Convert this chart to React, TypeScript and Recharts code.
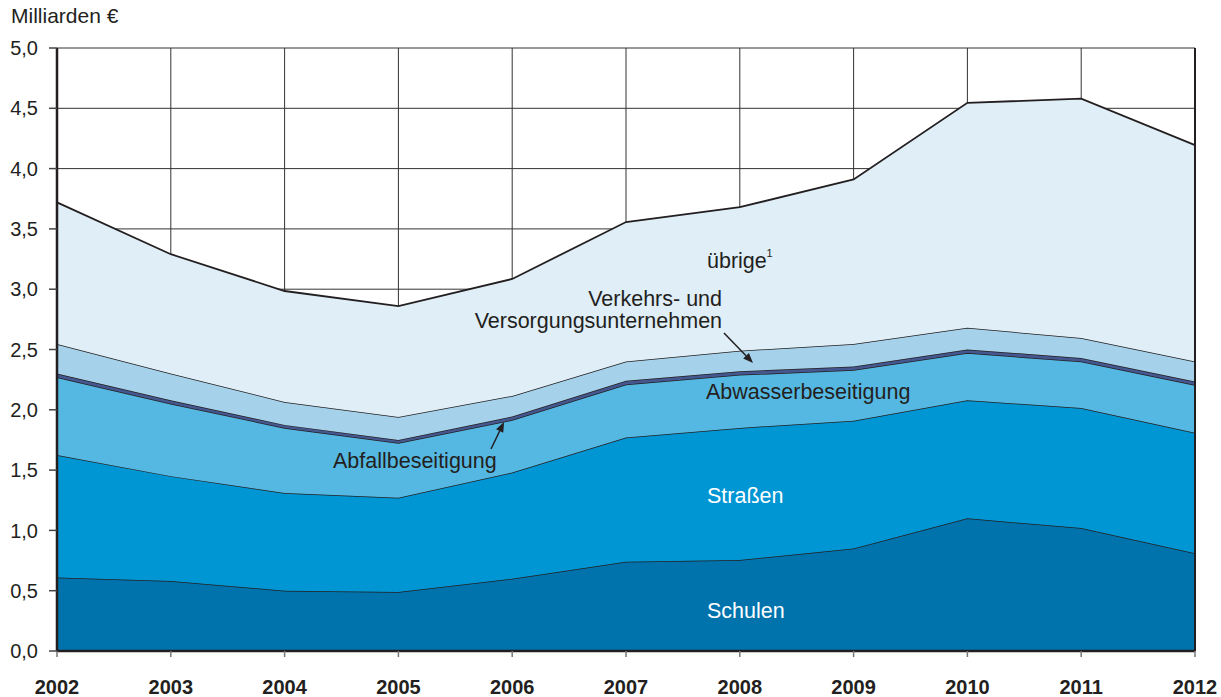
import React from 'react';
import { AreaChart, Area, XAxis, YAxis, CartesianGrid, ReferenceDot, ReferenceLine } from 'recharts';

const years = [2002, 2003, 2004, 2005, 2006, 2007, 2008, 2009, 2010, 2011, 2012];
const schulen = [0.61, 0.58, 0.5, 0.49, 0.6, 0.74, 0.755, 0.85, 1.1, 1.02, 0.81];
const strassen = [1.015, 0.87, 0.81, 0.78, 0.88, 1.03, 1.095, 1.06, 0.98, 0.995, 1.0];
const abwasser = [0.645, 0.6, 0.54, 0.455, 0.435, 0.44, 0.44, 0.42, 0.39, 0.385, 0.395];
const abfall = [0.03, 0.03, 0.025, 0.025, 0.03, 0.03, 0.03, 0.03, 0.03, 0.03, 0.03];
const verkehr = [0.245, 0.22, 0.19, 0.19, 0.17, 0.16, 0.17, 0.185, 0.18, 0.165, 0.165];
const uebrige = [1.175, 0.99, 0.92, 0.92, 0.97, 1.157, 1.19, 1.365, 1.865, 1.985, 1.795];
const yTicks = [0, 0.5, 1, 1.5, 2, 2.5, 3, 3.5, 4, 4.5, 5];

const data = years.map((y, i) => ({
  year: y,
  schulen: schulen[i],
  strassen: strassen[i],
  abwasser: abwasser[i],
  abfall: abfall[i],
  verkehr: verkehr[i],
  uebrige: uebrige[i],
}));

const FONT = '"Liberation Sans", Arial, Helvetica, sans-serif';
const LINE = '#231f20';

const textAt = (label: string, opts: { anchor?: string; fill?: string; size?: number }) => (props: any) => (
  <text
    x={props.cx}
    y={props.cy}
    textAnchor={opts.anchor || 'start'}
    fill={opts.fill || '#231f20'}
    fontSize={opts.size || 21.5}
    fontFamily={FONT}
  >
    {label}
  </text>
);

const arrowShape = (props: any) => {
  const { x1, y1, x2, y2 } = props;
  const ang = Math.atan2(y2 - y1, x2 - x1);
  const len = 10;
  const w = 4;
  const bx = x2 - len * Math.cos(ang);
  const by = y2 - len * Math.sin(ang);
  const px = -Math.sin(ang) * w;
  const py = Math.cos(ang) * w;
  return (
    <g>
      <line x1={x1} y1={y1} x2={bx} y2={by} stroke={LINE} strokeWidth={1.5} />
      <polygon points={`${x2},${y2} ${bx + px},${by + py} ${bx - px},${by - py}`} fill={LINE} />
    </g>
  );
};

export default function App() {
  return (
    <div style={{ position: 'absolute', left: 0, top: 0, width: 1221, height: 697, background: '#fff' }}>
      <div
        style={{
          position: 'absolute',
          left: 11,
          top: 4,
          fontFamily: FONT,
          fontSize: 21,
          color: '#231f20',
        }}
      >
        Milliarden €
      </div>
      <AreaChart width={1221} height={697} data={data} margin={{ top: 48, right: 26, bottom: 0, left: 0 }}>
        <CartesianGrid stroke="#333" strokeWidth={1} />
        <XAxis
          dataKey="year"
          type="number"
          domain={[2002, 2012]}
          ticks={years}
          height={46}
          tickSize={6}
          tickMargin={23}
          axisLine={{ stroke: LINE, strokeWidth: 2.5 }}
          tickLine={{ stroke: '#777', strokeWidth: 1.5 }}
          tick={{ fill: '#231f20', fontSize: 20, fontWeight: 'bold', fontFamily: FONT }}
          interval={0}
        />
        <YAxis
          type="number"
          domain={[0, 5]}
          ticks={yTicks}
          width={57}
          tickSize={8}
          tickMargin={11}
          axisLine={{ stroke: LINE, strokeWidth: 2.5 }}
          tickLine={{ stroke: '#444', strokeWidth: 1.5 }}
          tick={{ fill: '#231f20', fontSize: 20, fontFamily: FONT }}
          tickFormatter={(v: number) => v.toFixed(1).replace('.', ',')}
          interval={0}
        />
        <Area type="linear" dataKey="schulen" stackId="a" fill="#0073ad" fillOpacity={1} stroke={LINE} strokeWidth={1.5} isAnimationActive={false} />
        <Area type="linear" dataKey="strassen" stackId="a" fill="#0095d3" fillOpacity={1} stroke={LINE} strokeWidth={1.5} isAnimationActive={false} />
        <Area type="linear" dataKey="abwasser" stackId="a" fill="#55b8e2" fillOpacity={1} stroke={LINE} strokeWidth={1.5} isAnimationActive={false} />
        <Area type="linear" dataKey="abfall" stackId="a" fill="#45578f" fillOpacity={1} stroke={LINE} strokeWidth={1.5} isAnimationActive={false} />
        <Area type="linear" dataKey="verkehr" stackId="a" fill="#a5d2ea" fillOpacity={1} stroke={LINE} strokeWidth={1.5} isAnimationActive={false} />
        <Area type="linear" dataKey="uebrige" stackId="a" fill="#dfeef7" fillOpacity={1} stroke={LINE} strokeWidth={1.8} isAnimationActive={false} />
        <ReferenceLine x={2012} stroke={LINE} strokeWidth={2} />
        <ReferenceDot x={2007.712} y={3.176} r={0} shape={textAt('übrige', {})} />
        <ReferenceDot x={2008.235} y={3.27} r={0} shape={textAt('1', { size: 11 })} />
        <ReferenceDot x={2007.844} y={2.862} r={0} shape={textAt('Verkehrs- und', { anchor: 'end' })} />
        <ReferenceDot x={2007.844} y={2.675} r={0} shape={textAt('Versorgungsunternehmen', { anchor: 'end' })} />
        <ReferenceDot x={2007.703} y={2.09} r={0} shape={textAt('Abwasserbeseitigung', {})} />
        <ReferenceDot x={2004.425} y={1.517} r={0} shape={textAt('Abfallbeseitigung', {})} />
        <ReferenceDot x={2007.712} y={1.227} r={0} shape={textAt('Straßen', { fill: '#ffffff' })} />
        <ReferenceDot x={2007.712} y={0.274} r={0} shape={textAt('Schulen', { fill: '#ffffff' })} />
        <ReferenceLine segment={[{ x: 2007.861, y: 2.637 }, { x: 2008.116, y: 2.388 }]} shape={arrowShape} />
        <ReferenceLine segment={[{ x: 2005.814, y: 1.675 }, { x: 2005.928, y: 1.899 }]} shape={arrowShape} />
      </AreaChart>
    </div>
  );
}
